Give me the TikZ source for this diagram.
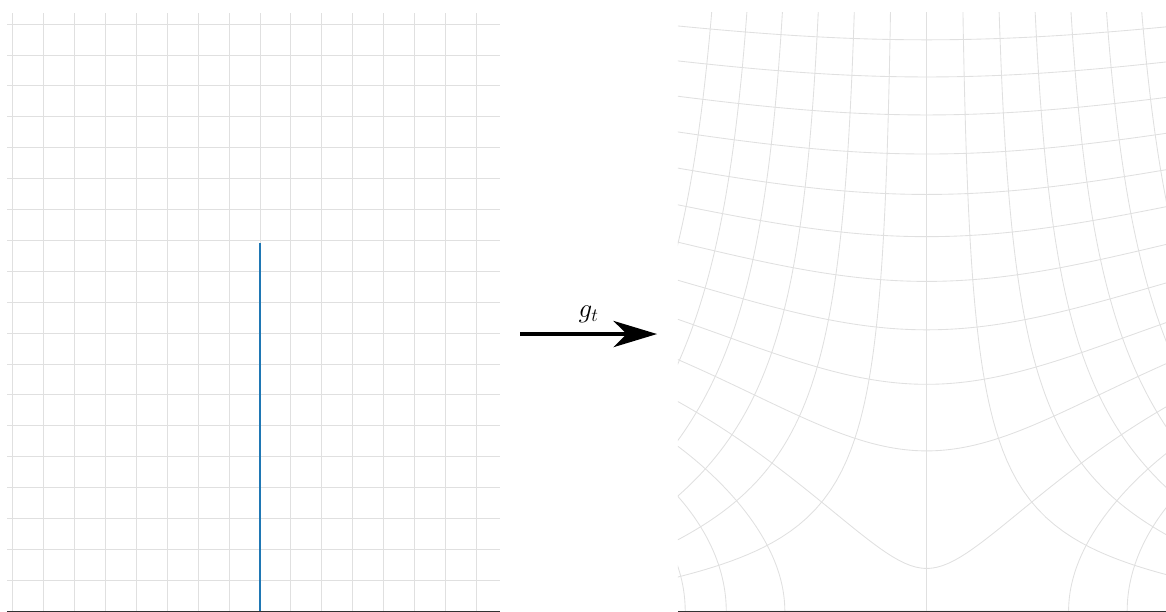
\documentclass[tikz,border=0pt]{standalone}
\usepackage{tikz}
\usetikzlibrary{arrows.meta}
\definecolor{gridink}{RGB}{224, 224, 224}
\definecolor{slitink}{RGB}{31, 119, 180}
\definecolor{axisink}{RGB}{50, 50, 50}
\newcommand{\slith}{11.92}

\begin{document}
\begin{tikzpicture}[x=1cm, y=1cm,
  gridline/.style={gridink, line width=0.8pt},
  axisline/.style={axisink, line width=1.1pt},
  slitline/.style={slitink, line width=1.2pt},
  maparrow/.style={line width=4.5pt, -{Stealth[length=40pt, width=24pt, inset=12pt]}},
  declare function={
    su(\p,\q) = (\p/10)*(\p/10) - (\q/10)*(\q/10) + (\slith/10)*(\slith/10);
    sv(\p,\q) = 2*(\p/10)*(\q/10);
    sr(\p,\q) = veclen(su(\p,\q), sv(\p,\q));
    gre(\p,\q) = 10*sign(\p)*sqrt(max(0, (sr(\p,\q) + su(\p,\q))/2));
    gim(\p,\q) = 10*sqrt(max(0, (sr(\p,\q) - su(\p,\q))/2));
  }]
  \useasboundingbox (-8.414,-0.023) rectangle (29.32,19.78);

  % slit domain
  \foreach \k in {-8,...,7} \draw[gridline] (\k,0) -- (\k,19.37);
  \foreach \c in {1,...,19} \draw[gridline] (-8.19,\c) -- (7.77,\c);
  \draw[slitline] (0,0) -- (0,\slith);
  \draw[axisline] (-8.19,0) -- (7.77,0);

  % image under g_t
  \begin{scope}[xshift=21.576cm]
    \clip (-8.05,0) rectangle (8.5,19.37);
    \foreach \c in {9,...,24}
      \draw[gridline] plot[domain=-3.8:3.8, samples=151] ({gre(\x*abs(\x),\c)}, {gim(\x*abs(\x),\c)});
    \foreach \k in {-9,...,9}
      \draw[gridline] plot[domain=0:25, samples=161] ({gre(\k,\x)}, {gim(\k,\x)});
  \end{scope}
  \draw[axisline] (13.526,0) -- (29.6,0);

  \coordinate (mapfrom) at (8.42,8.97);
  \coordinate (mapto) at (12.85,8.97);
  \draw[maparrow] (mapfrom) -- node[above=5pt, font=\fontsize{26}{30}\selectfont] (gtlabel) {$g_t$} (mapto);
\end{tikzpicture}
\end{document}
